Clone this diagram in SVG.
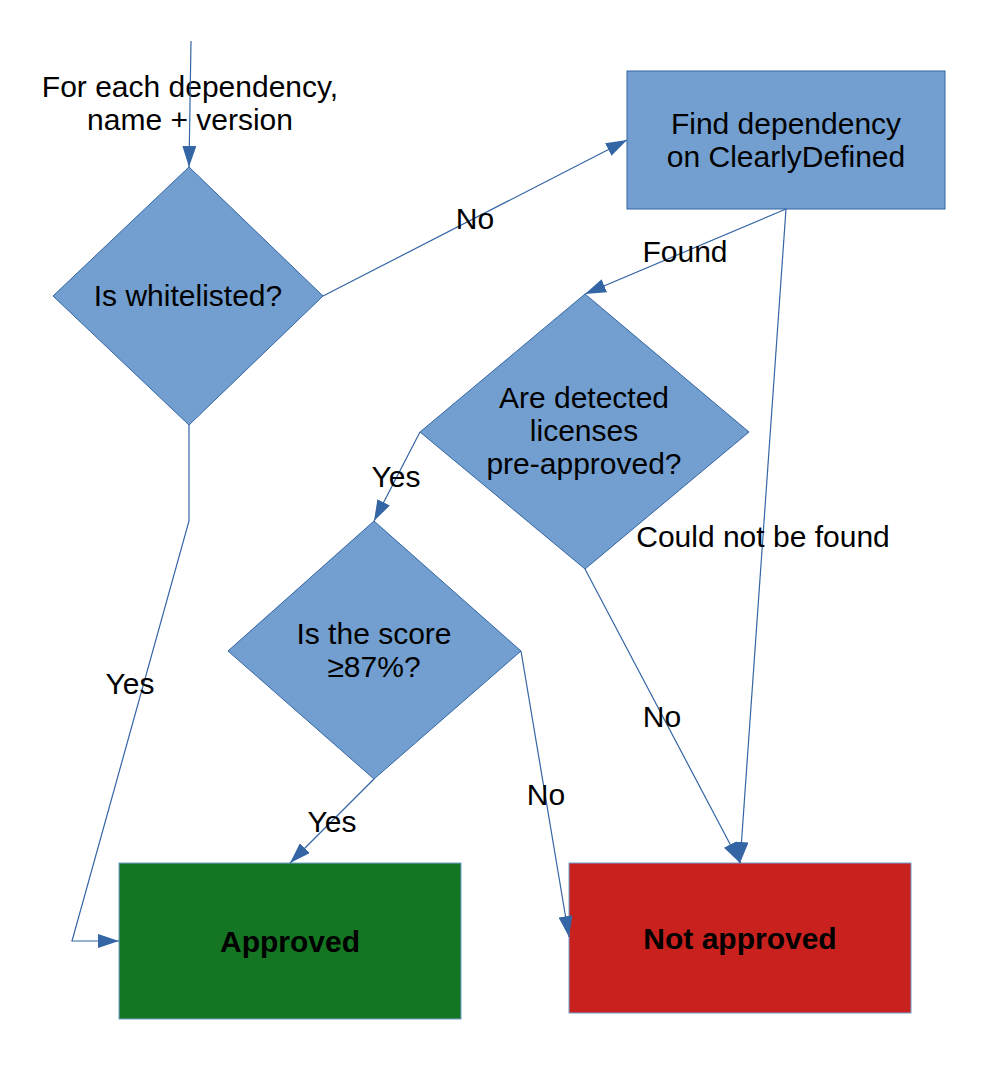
<svg xmlns="http://www.w3.org/2000/svg" width="992" height="1066" viewBox="0 0 992 1066">
<style>
text{font-family:"Liberation Sans",Arial,sans-serif;font-size:30px;fill:#000;text-anchor:middle}
.b{font-weight:bold}
.d{fill:#729fcf;stroke:#3465a4;stroke-width:1}
.c{fill:none;stroke:#3465a4;stroke-width:1.2}
</style>
<defs>
<marker id="ah" viewBox="0 0 21 14" refX="21" refY="7" markerWidth="21" markerHeight="14" markerUnits="userSpaceOnUse" orient="auto">
<path d="M0,0 L21,7 L0,14 z" fill="#3465a4"/>
</marker>
</defs>
<rect width="992" height="1066" fill="#fff"/>
<g id="nodes">
<g id="start"><text x="190" y="97">For each dependency,</text><text x="190" y="130">name + version</text></g>
<g id="whitelisted"><polygon class="d" points="189,167 323,296 189,425 53,296"/><text x="188" y="306">Is whitelisted?</text></g>
<g id="find"><rect class="d" x="627" y="71" width="318" height="138"/><text x="786" y="134">Find dependency</text><text x="786" y="167">on ClearlyDefined</text></g>
<g id="licenses"><polygon class="d" points="585,294 749,432 585,569 420,432"/><text x="584" y="408">Are detected</text><text x="584" y="441">licenses</text><text x="584" y="474">pre-approved?</text></g>
<g id="score"><polygon class="d" points="374,521 521,651 374,779 228,651"/><text x="374" y="644">Is the score</text><text x="374" y="677">≥87%?</text></g>
<g id="approved"><rect x="119" y="863" width="342" height="156" fill="#147623" stroke="#729fcf" stroke-width="1"/><text class="b" x="290" y="952">Approved</text></g>
<g id="notapproved"><rect x="569" y="863" width="342" height="150" fill="#c9211e" stroke="#729fcf" stroke-width="1"/><text class="b" x="740" y="949">Not approved</text></g>
</g>
<g id="connectors">
<line class="c" x1="191" y1="41" x2="189" y2="167" marker-end="url(#ah)"/>
<line class="c" x1="323" y1="296" x2="627" y2="140" marker-end="url(#ah)"/>
<line class="c" x1="786" y1="209" x2="585" y2="294" marker-end="url(#ah)"/>
<line class="c" x1="786" y1="209" x2="740" y2="863" marker-end="url(#ah)"/>
<line class="c" x1="420" y1="432" x2="374" y2="521" marker-end="url(#ah)"/>
<line class="c" x1="585" y1="569" x2="740" y2="863" marker-end="url(#ah)"/>
<line class="c" x1="374" y1="779" x2="290" y2="863" marker-end="url(#ah)"/>
<line class="c" x1="521" y1="651" x2="569" y2="937" marker-end="url(#ah)"/>
<polyline class="c" points="189,425 189,521 72,941 119,941" marker-end="url(#ah)"/>
<text x="475" y="229">No</text>
<text x="685" y="262">Found</text>
<text x="763" y="547">Could not be found</text>
<text x="396" y="487">Yes</text>
<text x="662" y="727">No</text>
<text x="332" y="832">Yes</text>
<text x="546" y="805">No</text>
<text x="130" y="694">Yes</text>
</g>
</svg>
